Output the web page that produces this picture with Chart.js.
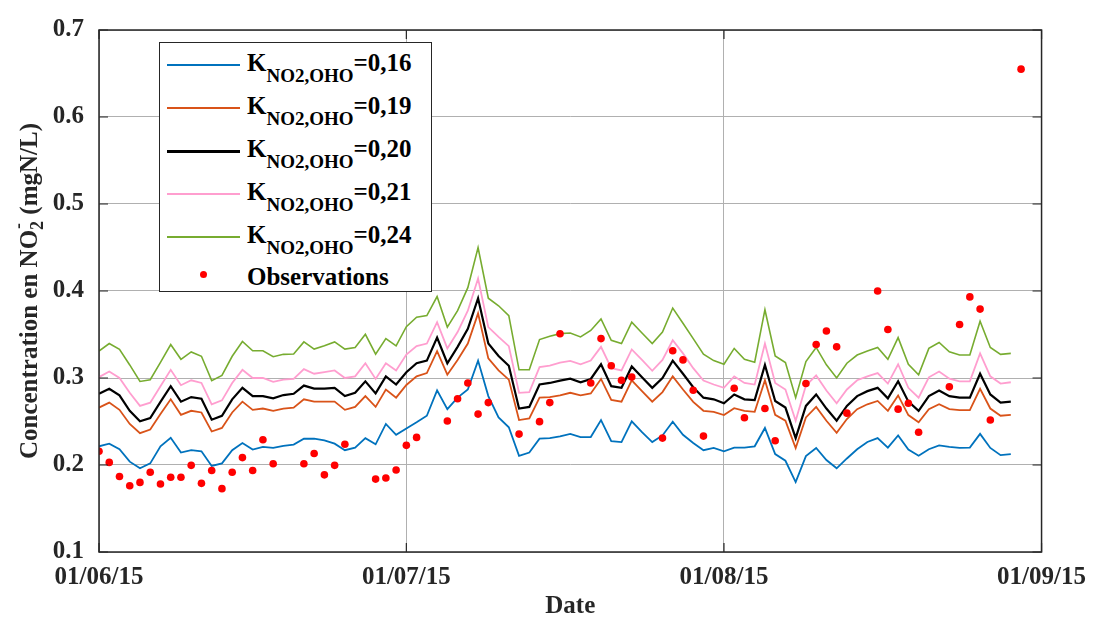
<!DOCTYPE html>
<html>
<head>
<meta charset="utf-8">
<script src="https://cdn.jsdelivr.net/npm/chart.js@4.4.1/dist/chart.umd.min.js"></script>
<style>
  body { margin: 0; background: #fff; }
  #wrap { position: relative; width: 1097px; height: 620px; }
  #legend {
    position: absolute; left: 159px; top: 42px; width: 273px; height: 250px;
    box-sizing: border-box; border: 1.5px solid #262626; background: #fff;
    font-family: "Liberation Serif", "Times New Roman", serif; font-weight: bold;
    color: #000;
  }
  #legend .ln { position: absolute; left: 7px; width: 73px; height: 2px; }
  #legend .dot { position: absolute; width: 7px; height: 7px; border-radius: 50%; background: #ff0000; }
  #legend .tx { position: absolute; left: 87px; font-size: 25px; line-height: 25px; white-space: nowrap; }
  #legend .tx sub { font-size: 19px; line-height: 0; vertical-align: -11px; }
</style>
</head>
<body>
<div id="wrap">
  <canvas id="chart" width="1097" height="620"></canvas>
  <div id="legend"></div>
</div>
<script>
// days since 01/06/15
var tickDays = [0, 30, 61, 92];
var tickLabels = ['01/06/15', '01/07/15', '01/08/15', '01/09/15'];
var yTicks = [0.1, 0.2, 0.3, 0.4, 0.5, 0.6, 0.7];

var kValues = ['0,16', '0,19', '0,20', '0,21', '0,24'];

// daily simulated values, 01/06 .. 29/08
var k016 = [0.2215, 0.2245, 0.2181, 0.2038, 0.1962, 0.2019, 0.2215, 0.2313, 0.2143, 0.217, 0.2158, 0.1989, 0.2019, 0.217, 0.2253,
  0.2177, 0.2208, 0.2196, 0.2219, 0.2234, 0.2302, 0.2302, 0.2283, 0.2245, 0.217, 0.22, 0.2309, 0.2238, 0.2472, 0.2347, 0.242,
  0.2491, 0.2566, 0.2857, 0.2642, 0.2774, 0.2868, 0.32, 0.2792, 0.2547, 0.2434, 0.2106, 0.2143, 0.2302, 0.2309, 0.233,
  0.2358, 0.2321, 0.2321, 0.2517, 0.2275, 0.2264, 0.2502, 0.2377, 0.2264, 0.234, 0.2498, 0.2347, 0.2253, 0.217, 0.2196, 0.2158,
  0.22, 0.22, 0.2215, 0.2426, 0.2125, 0.2049, 0.1804, 0.2102, 0.2196, 0.2057, 0.1962, 0.2075, 0.2181, 0.2264, 0.2309,
  0.22, 0.234, 0.2177, 0.2106, 0.2181, 0.2226, 0.2208, 0.2196, 0.22, 0.2358, 0.2196, 0.2113, 0.2125];
var k019 = [0.266, 0.2717, 0.2634, 0.2472, 0.2366, 0.2408, 0.2585, 0.2755, 0.2577, 0.2623, 0.2604, 0.2385, 0.2426, 0.2604, 0.2728,
  0.2634, 0.2649, 0.2623, 0.2649, 0.266, 0.2755, 0.2728, 0.2728, 0.2728, 0.2634, 0.2668, 0.2792, 0.2668, 0.2868, 0.2774, 0.292,
  0.3019, 0.3057, 0.3309, 0.3038, 0.3208, 0.3396, 0.3743, 0.3226, 0.3087, 0.2981, 0.2517, 0.2536, 0.2774, 0.2781, 0.280,
  0.283, 0.28, 0.2823, 0.2989, 0.2747, 0.2728, 0.2974, 0.2849, 0.2728, 0.2838, 0.3019, 0.2868, 0.2725, 0.2623, 0.2611, 0.2574,
  0.2653, 0.2623, 0.2611, 0.2974, 0.2577, 0.2509, 0.2196, 0.2547, 0.2668, 0.2509, 0.237, 0.2528, 0.2642, 0.2698, 0.2736,
  0.2623, 0.28, 0.2574, 0.2491, 0.2642, 0.2698, 0.2642, 0.263, 0.263, 0.2875, 0.2649, 0.2566, 0.2577];
var k020 = [0.2819, 0.2875, 0.28, 0.2623, 0.2502, 0.254, 0.2725, 0.2906, 0.2728, 0.2781, 0.2762, 0.2521, 0.2566, 0.2755, 0.2887,
  0.2792, 0.2792, 0.2766, 0.2804, 0.2819, 0.2913, 0.2879, 0.2879, 0.2887, 0.2792, 0.283, 0.2962, 0.2823, 0.3019, 0.2925, 0.3066,
  0.317, 0.32, 0.3464, 0.317, 0.3358, 0.3566, 0.3917, 0.3396, 0.3253, 0.314, 0.2649, 0.2668, 0.2925, 0.2943, 0.297,
  0.2992, 0.2951, 0.2989, 0.3158, 0.2906, 0.2887, 0.3132, 0.3008, 0.2887, 0.3, 0.32, 0.3049, 0.2894, 0.2774, 0.2755, 0.271,
  0.2811, 0.2755, 0.2747, 0.3151, 0.2736, 0.266, 0.2309, 0.2679, 0.2811, 0.2649, 0.2509, 0.2679, 0.2792, 0.2849, 0.2887,
  0.2766, 0.2962, 0.2728, 0.2623, 0.2792, 0.2857, 0.2792, 0.2774, 0.2774, 0.3049, 0.2811, 0.2717, 0.2728];
var k021 = [0.301, 0.3075, 0.300, 0.283, 0.268, 0.2717, 0.2906, 0.3094, 0.2917, 0.2974, 0.2943, 0.2698, 0.2743, 0.2943, 0.3094,
  0.3, 0.3, 0.2955, 0.2981, 0.2989, 0.3102, 0.3049, 0.3068, 0.3087, 0.3, 0.3019, 0.317, 0.2989, 0.317, 0.3087, 0.327,
  0.3366, 0.3396, 0.3642, 0.334, 0.3528, 0.3774, 0.4143, 0.3585, 0.3472, 0.3366, 0.283, 0.2838, 0.3125, 0.3143, 0.3177,
  0.3196, 0.3158, 0.32, 0.3358, 0.3113, 0.3087, 0.3328, 0.3208, 0.3083, 0.3208, 0.3434, 0.3283, 0.3113, 0.297, 0.2925, 0.2887,
  0.3019, 0.2943, 0.2925, 0.3396, 0.2943, 0.2868, 0.2509, 0.2913, 0.303, 0.2857, 0.271, 0.2868, 0.2974, 0.3019, 0.3057,
  0.2936, 0.3158, 0.2887, 0.2774, 0.3008, 0.3075, 0.2992, 0.2962, 0.2962, 0.3283, 0.3019, 0.2936, 0.2951];
var k024 = [0.331, 0.3396, 0.333, 0.315, 0.296, 0.298, 0.318, 0.3385, 0.3215, 0.330, 0.325, 0.297, 0.303, 0.325, 0.342,
  0.3313, 0.3313, 0.3245, 0.3272, 0.3275, 0.3415, 0.3332, 0.337, 0.3415, 0.3332, 0.3351, 0.3502, 0.3275, 0.3453, 0.337, 0.359,
  0.3698, 0.3717, 0.3936, 0.3585, 0.3774, 0.4038, 0.4498, 0.3917, 0.383, 0.3717, 0.3094, 0.3094, 0.3442, 0.3479, 0.351,
  0.3517, 0.3472, 0.3547, 0.3679, 0.3434, 0.3396, 0.3642, 0.3517, 0.3396, 0.3528, 0.3804, 0.363, 0.3453, 0.3275, 0.32, 0.3158,
  0.334, 0.3215, 0.3181, 0.3785, 0.3253, 0.3177, 0.2774, 0.3189, 0.3351, 0.3151, 0.3, 0.317, 0.3264, 0.3309, 0.3351,
  0.3215, 0.3464, 0.3158, 0.3038, 0.334, 0.3408, 0.3302, 0.3264, 0.3264, 0.3653, 0.3351, 0.3272, 0.3283];

// observations
var obsDay = [0, 1, 2, 3, 4, 5, 6, 7, 8, 9, 10, 11, 12, 13, 14, 15, 16, 17,
  20, 21, 22, 23, 24, 27, 28, 29, 30, 31, 34, 35, 36, 37, 38, 41, 43, 44, 45,
  48, 49, 50, 51, 52, 55, 56, 57, 58, 59, 62, 63, 65, 66, 69, 70, 71, 72, 73,
  76, 77, 78, 79, 80, 83, 84, 85, 86, 87, 90];
var obsValue = [0.2158, 0.203, 0.1868, 0.1762, 0.18, 0.1917, 0.1781, 0.186, 0.186, 0.1996, 0.1789, 0.1936, 0.1728, 0.1917, 0.2085, 0.1936, 0.229, 0.2015,
  0.2015, 0.2132, 0.1887, 0.1996, 0.2238, 0.1838, 0.185, 0.1943, 0.2226, 0.2317, 0.2506, 0.2762, 0.2943, 0.2585, 0.2717, 0.2355, 0.2498, 0.2717, 0.3509,
  0.2943, 0.3453, 0.314, 0.2974, 0.3011, 0.2309, 0.3313, 0.3208, 0.286, 0.2332, 0.2883, 0.2543, 0.2649, 0.2279, 0.2936, 0.3385, 0.354, 0.3358, 0.2596,
  0.40, 0.3558, 0.2642, 0.271, 0.2377, 0.2898, 0.3615, 0.3932, 0.3792, 0.2517, 0.655];

var series = [k016, k019, k020, k021, k024];
var colors = ['#0072BD', '#D95319', '#000000', '#FF9ECF', '#77AC30'];
var widths = [1.8, 1.8, 2.2, 1.8, 1.6];

var font = '"Liberation Serif", "Times New Roman", serif';
var axisColor = '#262626';

var datasets = series.map(function (vals, i) {
  return {
    label: 'K=' + kValues[i],
    data: vals.map(function (v, d) { return { x: d, y: v }; }),
    showLine: true,
    borderColor: colors[i],
    borderWidth: widths[i],
    pointRadius: 0,
    fill: false,
    tension: 0,
    order: 6 - i
  };
});
datasets.push({
  label: 'Observations',
  data: obsDay.map(function (d, i) { return { x: d, y: obsValue[i] }; }),
  showLine: false,
  pointRadius: 3.8,
  pointBackgroundColor: '#ff0000',
  pointBorderWidth: 0,
  order: 0
});

// frame, inward ticks and axis titles
var framePlugin = {
  id: 'frame',
  afterDraw: function (chart) {
    var ctx = chart.ctx, a = chart.chartArea;
    var x = chart.scales.x, y = chart.scales.y;
    ctx.save();
    ctx.strokeStyle = axisColor;
    ctx.lineWidth = 1.5;
    ctx.strokeRect(a.left, a.top, a.right - a.left, a.bottom - a.top);
    ctx.lineWidth = 1.2;
    ctx.beginPath();
    yTicks.forEach(function (v) {
      var py = y.getPixelForValue(v);
      ctx.moveTo(a.left, py); ctx.lineTo(a.left + 9, py);
      ctx.moveTo(a.right, py); ctx.lineTo(a.right - 9, py);
    });
    tickDays.forEach(function (d) {
      var px = x.getPixelForValue(d);
      ctx.moveTo(px, a.bottom); ctx.lineTo(px, a.bottom - 9);
      ctx.moveTo(px, a.top); ctx.lineTo(px, a.top + 9);
    });
    ctx.stroke();

    ctx.fillStyle = axisColor;
    ctx.font = 'bold 25px ' + font;
    ctx.textAlign = 'center';
    ctx.textBaseline = 'alphabetic';
    ctx.fillText('Date', (a.left + a.right) / 2, 613);

    // y title with NO2- (sub 2, sup -)
    var p1 = 'Concentration en NO', p3 = ' (mgN/L)';
    ctx.font = 'bold 25px ' + font;
    var w1 = ctx.measureText(p1).width, w3 = ctx.measureText(p3).width;
    ctx.font = 'bold 18px ' + font;
    var w2 = ctx.measureText('2').width;
    var total = w1 + w2 + w3;
    ctx.translate(37, (a.top + a.bottom) / 2);
    ctx.rotate(-Math.PI / 2);
    ctx.textAlign = 'left';
    var sx = -total / 2;
    ctx.font = 'bold 25px ' + font;
    ctx.fillText(p1, sx, 0);
    ctx.font = 'bold 18px ' + font;
    ctx.fillText('2', sx + w1, 6);
    ctx.fillText('-', sx + w1 + 1, -13);
    ctx.font = 'bold 25px ' + font;
    ctx.fillText(p3, sx + w1 + w2, 0);
    ctx.restore();
  }
};

var ctx = document.getElementById('chart').getContext('2d');
var chart = new Chart(ctx, {
  type: 'scatter',
  data: { datasets: datasets },
  options: {
    responsive: false,
    animation: false,
    layout: { padding: { top: 22, right: 50, left: 0, bottom: 0 } },
    plugins: { legend: { display: false }, tooltip: { enabled: false } },
    scales: {
      x: {
        type: 'linear',
        min: 0, max: 92,
        afterBuildTicks: function (s) { s.ticks = tickDays.map(function (v) { return { value: v }; }); },
        afterFit: function (s) { s.height = 68; },
        ticks: {
          autoSkip: false, maxRotation: 0, padding: 11,
          color: axisColor,
          font: { family: font, size: 25, weight: 'bold' },
          callback: function (v) { return tickLabels[tickDays.indexOf(v)]; }
        },
        grid: { color: '#b0b0b0', lineWidth: 1, drawTicks: false },
        border: { display: false }
      },
      y: {
        min: 0.1, max: 0.7,
        afterBuildTicks: function (s) { s.ticks = yTicks.map(function (v) { return { value: v }; }); },
        afterFit: function (s) { s.width = 99; },
        ticks: {
          padding: 15,
          color: axisColor,
          font: { family: font, size: 25, weight: 'bold' },
          callback: function (v) { return v.toFixed(1); }
        },
        grid: { color: '#b0b0b0', lineWidth: 1, drawTicks: false },
        border: { display: false }
      }
    }
  },
  plugins: [framePlugin]
});

// legend with subscripts (HTML text)
var legend = document.getElementById('legend');
var html = '';
kValues.forEach(function (k, i) {
  var lineY = 22 + 43 * i;
  var base = 28 + 43 * i;
  html += '<div class="ln" style="top:' + (lineY - 1) + 'px;background:' + colors[i] + ';height:' + (i === 2 ? 2.5 : 2) + 'px"></div>';
  html += '<div class="tx" style="top:' + (base - 21) + 'px">K<sub>NO2,OHO</sub>=' + k + '</div>';
});
html += '<div class="dot" style="left:' + (43 - 3.5) + 'px;top:' + (231.5 - 3.5) + 'px"></div>';
html += '<div class="tx" style="top:' + (241.5 - 21) + 'px">Observations</div>';
legend.innerHTML = html;
</script>
</body>
</html>
